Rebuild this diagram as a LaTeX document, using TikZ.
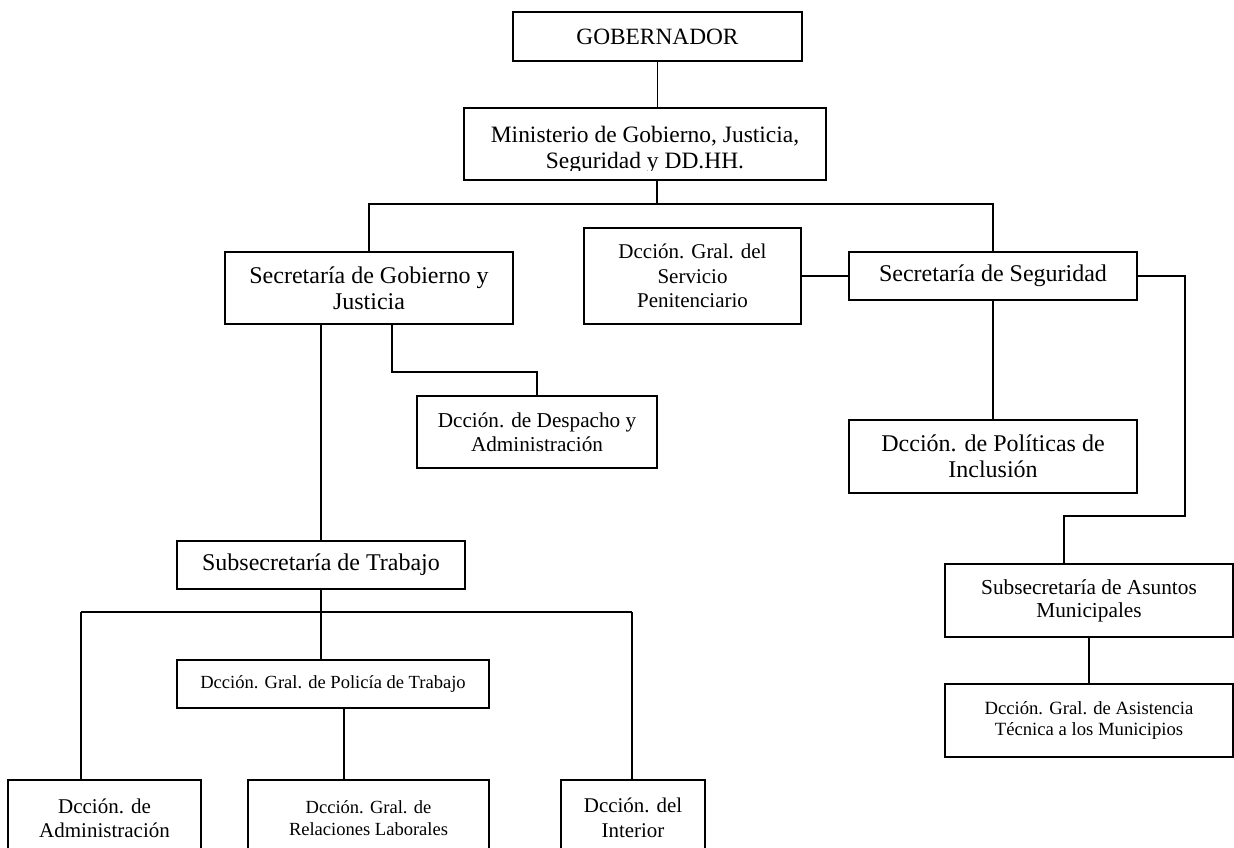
\documentclass[tikz,border=0pt]{standalone}
\usepackage{fontspec}
\setmainfont{Liberation Serif}
\newcommand{\fs}[2]{\fontsize{#1}{#2}\selectfont}
\begin{document}
\begin{tikzpicture}[x=0.75pt, y=-0.75pt,
  bx/.style 2 args={draw, line width=1pt, inner sep=0pt, align=center,
    minimum width=#1*0.75pt, minimum height=#2*0.75pt},
  link/.style={line width=1pt}]
\path[use as bounding box] (0,0) rectangle (1234,847);
\fill[white] (0,0) rectangle (1234,847);
\clip (0,0) rectangle (1234,847);

% top levels
\node[bx={289}{49}, font=\fs{17.5pt}{20pt}] (gob) at (657.5,36.5) {GOBERNADOR};
\node[bx={362}{72}] (min) at (645,144) {};
\begin{scope}
  \clip (464,108) rectangle (826,170);
  \node[anchor=base, inner sep=0pt, font=\fs{17.6pt}{20pt}] (minA) at (645,142) {Ministerio de Gobierno, Justicia,};
  \node[anchor=base, inner sep=0pt, font=\fs{17.6pt}{20pt}] (minB) at (645,168) {Seguridad y DD.HH.};
\end{scope}

% secretarías
\node[bx={288}{72}, font=\fs{18pt}{19.5pt}] (secgob) at (369,288) {Secretaría de Gobierno y\\Justicia};
\node[bx={217}{96}, font=\fs{15.75pt}{18.4pt}] (penit) at (692.5,276) {Dcción. Gral. del\\Servicio\\Penitenciario};
\node[bx={288}{48}, font=\fs{18pt}{19.5pt}] (secseg) at (993,276) {Secretaría de Seguridad};
\node[bx={240}{72}, font=\fs{15.9pt}{18pt}] (desp) at (537,432) {Dcción. de Despacho y\\Administración};
\node[bx={288}{73}, font=\fs{18pt}{19.5pt}] (pol) at (993,456.5) {Dcción. de Políticas de\\Inclusión};

% trabajo
\node[bx={288}{48}, font=\fs{18pt}{19.5pt}] (subtrab) at (321,565) {Subsecretaría de Trabajo};
\node[bx={312}{48}, font=\fs{13.9pt}{16pt}] (policia) at (333,684) {Dcción. Gral. de Policía de Trabajo};
\node[bx={193}{76}, font=\fs{15.75pt}{18pt}] (admin) at (104.5,818) {Dcción. de\\Administración};
\node[bx={241}{76}, font=\fs{13.9pt}{16.5pt}] (relac) at (368.5,818) {Dcción. Gral. de\\Relaciones Laborales};
\node[bx={144}{76}, font=\fs{15.7pt}{18.75pt}] (inter) at (633,818) {Dcción. del\\Interior};

% municipios
\node[bx={288}{73}, font=\fs{16pt}{17.25pt}] (subasun) at (1089,600.5) {Subsecretaría de Asuntos\\Municipales};
\node[bx={288}{73}, font=\fs{14pt}{15.75pt}] (asist) at (1089,720.5) {Dcción. Gral. de Asistencia\\Técnica a los Municipios};

% junction points
\coordinate (j1) at (657,204);
\coordinate (d1) at (392,372);
\coordinate (r1) at (1185,516);
\coordinate (r2) at (1064,564);
\coordinate (lb) at (81,612);
\coordinate (rb) at (632,612);
\coordinate (p1) at (344,744);

% connectors
\draw[link] (gob.south) -- (gob.south |- min.north);
\draw[link] (min.south -| j1) -- (j1);
\draw[link] (secgob.north) |- (j1) -| (secseg.north);
\draw[link] (penit.east) -- (secseg.west);
\draw[link] (secseg.south) -- (pol.north);
\draw[link] (secseg.east) -| (r1) -| (r2);
\draw[link] (subtrab.north) -- (subtrab.north |- secgob.south);
\draw[link] (secgob.south -| d1) -- (d1) -| (desp.north);
\draw[link] (subtrab.south) -- (subtrab.south |- policia.north);
\draw[link] (lb) -- (rb);
\draw[link] (lb) -- (lb |- admin.north);
\draw[link] (rb) -- (rb |- inter.north);
\draw[link] (p1 |- policia.south) -- (p1 |- relac.north);
\draw[link] (subasun.south) -- (asist.north);
\end{tikzpicture}
\end{document}
